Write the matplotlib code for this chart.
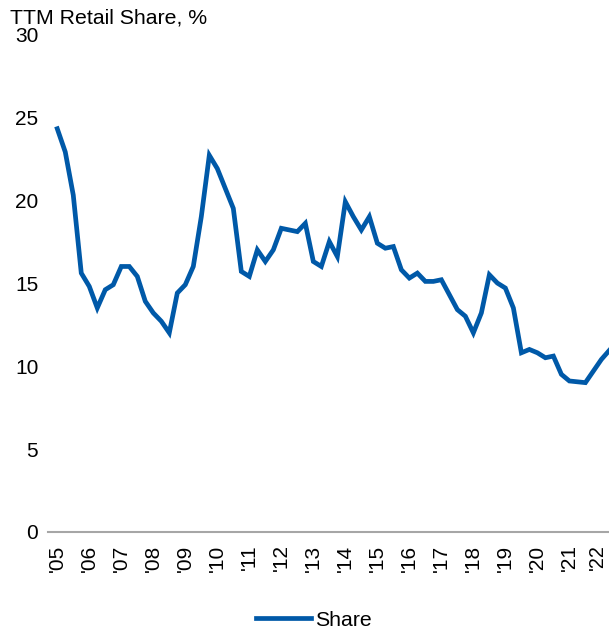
import numpy as np
import matplotlib.pyplot as plt
import matplotlib.transforms as mtransforms

plt.rcParams['font.family'] = ['Liberation Sans', 'DejaVu Sans']

# quarterly TTM retail share, 2005Q1 - 2022Q2
share = [24.3, 22.9, 20.3, 15.6, 14.8, 13.5, 14.6, 14.9,
         16.0, 16.0, 15.4, 13.9, 13.2, 12.7, 12.0, 14.4,
         14.9, 16.0, 19.0, 22.7, 21.9, 20.7, 19.5, 15.7,
         15.4, 17.0, 16.3, 17.0, 18.3, 18.2, 18.1, 18.6,
         16.3, 16.0, 17.5, 16.6, 19.9, 19.0, 18.2, 19.0,
         17.4, 17.1, 17.2, 15.8, 15.3, 15.6, 15.1, 15.1,
         15.2, 14.3, 13.4, 13.0, 12.0, 13.2, 15.5, 15.0,
         14.7, 13.5, 10.8, 11.0, 10.8, 10.5, 10.6, 9.5,
         9.1, 9.05, 9.0, 9.7, 10.4, 10.95]
years = ["'05", "'06", "'07", "'08", "'09", "'10", "'11", "'12", "'13",
         "'14", "'15", "'16", "'17", "'18", "'19", "'20", "'21", "'22"]

x = np.arange(len(share))

fig = plt.figure(figsize=(6.09, 6.31), dpi=100)
ax = fig.add_axes([0.0788, 0.1569, 0.9212, 0.789])

ax.plot(x, share, color='#0059A8', lw=3.4, solid_joinstyle='miter', label='Share')

ax.set_ylim(0, 30)
ax.set_xlim(-1.16, 68.95)
ax.set_yticks(range(0, 31, 5))
ax.set_xticks(np.arange(0, len(share), 4))
ax.set_xticklabels(years, rotation=90)
ax.tick_params(axis='both', length=0, labelsize=15, colors='black')
ax.tick_params(axis='y', pad=7)
ax.tick_params(axis='x', pad=9)

# last year label sits right at the figure edge; nudge it inside
last = ax.get_xticklabels()[-1]
last.set_fontsize(14.2)
last.set_transform(last.get_transform() +
                   mtransforms.ScaledTranslation(-3 / 72, 0, fig.dpi_scale_trans))

for s in ['top', 'right', 'left']:
    ax.spines[s].set_visible(False)
ax.spines['bottom'].set_color('#A6A6A6')
ax.spines['bottom'].set_linewidth(1.5)

fig.text(0.016, 0.972, 'TTM Retail Share, %', fontsize=15.3, va='center', ha='left')

fig.legend(loc='center', bbox_to_anchor=(0.515, 0.017), frameon=False,
           fontsize=15.3, handlelength=2.6, handletextpad=0.2)

fig.savefig('out.png', dpi=100)
